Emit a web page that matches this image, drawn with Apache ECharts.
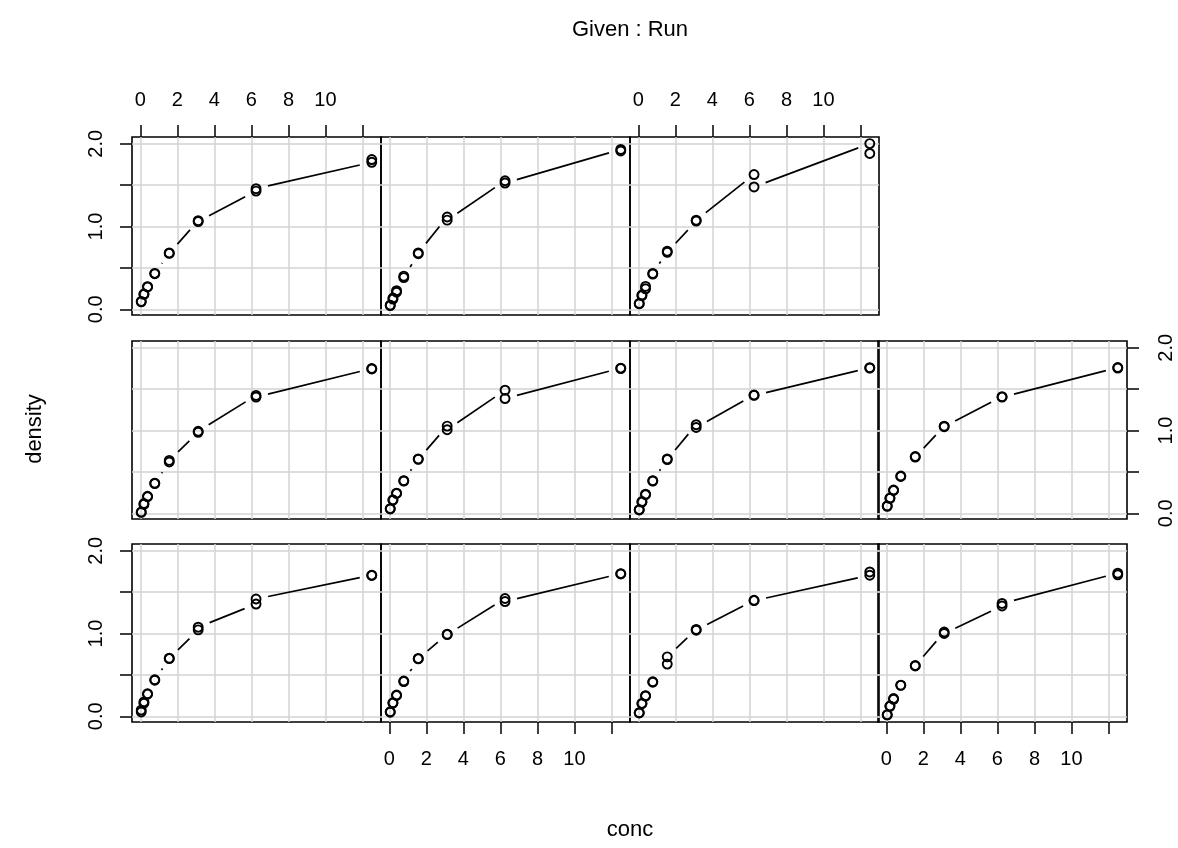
<!DOCTYPE html>
<html>
<head>
<meta charset="utf-8">
<title>DNase coplot</title>
<script src="https://cdn.jsdelivr.net/npm/echarts@6/dist/echarts.min.js"></script>
<style>
  html, body { margin: 0; padding: 0; background: #fff; }
  #chart { width: 1178px; height: 848px; }
</style>
</head>
<body>
<div id="chart"></div>
<script>
// DNase ELISA assay: optical density vs. DNase concentration, one panel per run
const CONC = [0.04882812, 0.1953125, 0.390625, 0.78125, 1.5625, 3.125, 6.25, 12.5];

// two replicates per concentration, in assay order
const RUN_1  = [0.017, 0.018, 0.121, 0.124, 0.206, 0.215, 0.377, 0.374, 0.614, 0.609, 1.019, 1.001, 1.334, 1.364, 1.730, 1.710];
const RUN_2  = [0.045, 0.050, 0.137, 0.123, 0.225, 0.207, 0.401, 0.383, 0.672, 0.681, 1.116, 1.078, 1.554, 1.526, 1.932, 1.914];
const RUN_3  = [0.070, 0.068, 0.173, 0.165, 0.277, 0.248, 0.434, 0.426, 0.703, 0.689, 1.067, 1.077, 1.629, 1.479, 2.003, 1.884];
const RUN_4  = [0.011, 0.016, 0.118, 0.108, 0.200, 0.206, 0.364, 0.360, 0.620, 0.640, 0.979, 0.992, 1.425, 1.405, 1.750, 1.745];
const RUN_5  = [0.041, 0.045, 0.142, 0.135, 0.232, 0.225, 0.394, 0.390, 0.657, 0.650, 1.071, 1.038, 1.430, 1.425, 1.760, 1.755];
const RUN_6  = [0.096, 0.090, 0.185, 0.180, 0.274, 0.270, 0.435, 0.430, 0.682, 0.676, 1.071, 1.061, 1.429, 1.458, 1.777, 1.810];
const RUN_7  = [0.090, 0.085, 0.184, 0.180, 0.281, 0.276, 0.451, 0.445, 0.686, 0.680, 1.053, 1.047, 1.410, 1.404, 1.762, 1.756];
const RUN_8  = [0.057, 0.052, 0.163, 0.158, 0.244, 0.240, 0.394, 0.390, 0.657, 0.652, 1.054, 1.010, 1.488, 1.387, 1.755, 1.750];
const RUN_9  = [0.044, 0.040, 0.157, 0.152, 0.249, 0.245, 0.418, 0.412, 0.631, 0.719, 1.050, 1.040, 1.403, 1.398, 1.705, 1.745];
const RUN_10 = [0.052, 0.075, 0.158, 0.175, 0.273, 0.268, 0.442, 0.436, 0.703, 0.697, 1.045, 1.077, 1.357, 1.418, 1.707, 1.702];
const RUN_11 = [0.055, 0.050, 0.164, 0.160, 0.257, 0.252, 0.426, 0.420, 0.700, 0.694, 0.993, 0.987, 1.424, 1.387, 1.725, 1.720];

// panels run bottom-left to top-right, ordered by the Run factor levels
const PANEL_RUNS = ['10', '11', '9', '1', '4', '8', '5', '7', '6', '2', '3'];

const X_TICKS = [0, 2, 4, 6, 8, 10, 12];
const X_LABELS = [0, 2, 4, 6, 8, 10];
const Y_TICKS = [0, 0.5, 1, 1.5, 2];
const Y_LABELS = [0, 1, 2];

const TITLE = 'Given : Run';
const X_NAME = 'conc';
const Y_NAME = 'density';

const RUNS = {
  '1': RUN_1, '2': RUN_2, '3': RUN_3, '4': RUN_4, '5': RUN_5, '6': RUN_6,
  '7': RUN_7, '8': RUN_8, '9': RUN_9, '10': RUN_10, '11': RUN_11
};

// shared limits, padded 4% like base graphics
function padded(vals) {
  const lo = Math.min(...vals), hi = Math.max(...vals);
  const pad = (hi - lo) * 0.04;
  return [lo - pad, hi + pad];
}
const allDensity = [].concat(...Object.values(RUNS));
const X_LIM = padded(CONC);
const Y_LIM = padded(allDensity);

// panel geometry
const COL_LEFT = [132, 381, 630, 878];
const ROW_TOP = [544, 341, 137];   // bottom, middle, top row
const PANEL_W = 249;
const PANEL_H = 178;

const FONT = '"Liberation Sans", Arial, Helvetica, sans-serif';
const GAP = 12.3;        // gap left around each point on the connecting line
const GRID_GRAY = '#d3d3d3';

// which outer axes carry ticks and labels
const X_TOP = [8, 10];
const X_BOTTOM = [1, 3];
const Y_LEFT = [0, 8];
const Y_RIGHT = [7];

const grids = [], xAxes = [], yAxes = [], series = [];

PANEL_RUNS.forEach((run, k) => {
  const row = Math.floor(k / 4), col = k % 4;
  grids.push({
    left: COL_LEFT[col], top: ROW_TOP[row], width: PANEL_W, height: PANEL_H,
    show: true, borderColor: '#000', borderWidth: 1.6, backgroundColor: 'transparent'
  });

  const xShown = X_TOP.includes(k) || X_BOTTOM.includes(k);
  xAxes.push({
    gridIndex: k, type: 'value', min: X_LIM[0], max: X_LIM[1],
    position: X_TOP.includes(k) ? 'top' : 'bottom',
    axisLine: { show: false, onZero: false },
    axisTick: { show: xShown, length: 12, customValues: X_TICKS, lineStyle: { color: '#000', width: 1.5 } },
    axisLabel: { show: xShown, customValues: X_LABELS, margin: 27, fontSize: 20, color: '#000', fontFamily: FONT },
    splitLine: { show: true, lineStyle: { color: GRID_GRAY, width: 1.5 } }
  });

  const yShown = Y_LEFT.includes(k) || Y_RIGHT.includes(k);
  const onRight = Y_RIGHT.includes(k);
  yAxes.push({
    gridIndex: k, type: 'value', min: Y_LIM[0], max: Y_LIM[1],
    position: onRight ? 'right' : 'left',
    axisLine: { show: false, onZero: false },
    axisTick: { show: yShown, length: 12, customValues: Y_TICKS, lineStyle: { color: '#000', width: 1.5 } },
    axisLabel: {
      show: yShown, customValues: Y_LABELS, rotate: 90, margin: onRight ? 29 : 26,
      fontSize: 20, color: '#000', fontFamily: FONT,
      formatter: v => Number(v).toFixed(1)
    },
    splitLine: { show: true, lineStyle: { color: GRID_GRAY, width: 1.5 } }
  });

  const dens = RUNS[run];
  const pts = dens.map((d, i) => [CONC[Math.floor(i / 2)], d]);
  const segs = [];
  for (let i = 0; i < pts.length - 1; i++) {
    segs.push([pts[i][0], pts[i][1], pts[i + 1][0], pts[i + 1][1]]);
  }

  // connecting line, broken around every point
  series.push({
    type: 'custom', xAxisIndex: k, yAxisIndex: k, z: 2, silent: true,
    encode: { x: [0, 2], y: [1, 3] },
    data: segs,
    renderItem: (params, api) => {
      const p1 = api.coord([api.value(0), api.value(1)]);
      const p2 = api.coord([api.value(2), api.value(3)]);
      const dx = p2[0] - p1[0], dy = p2[1] - p1[1];
      const d = Math.hypot(dx, dy);
      if (d <= 2 * GAP) return null;
      const ux = dx / d, uy = dy / d;
      return {
        type: 'line',
        shape: { x1: p1[0] + ux * GAP, y1: p1[1] + uy * GAP, x2: p2[0] - ux * GAP, y2: p2[1] - uy * GAP },
        style: { stroke: '#000', lineWidth: 1.7, fill: null }
      };
    }
  });

  // open circles
  series.push({
    type: 'scatter', xAxisIndex: k, yAxisIndex: k, z: 3, silent: true,
    symbol: 'circle', symbolSize: 9,
    itemStyle: { color: 'rgba(0,0,0,0)', borderColor: '#000', borderWidth: 1.9, opacity: 1 },
    data: pts
  });
});

const chart = echarts.init(document.getElementById('chart'), null, { renderer: 'canvas' });
chart.setOption({
  animation: false,
  backgroundColor: '#fff',
  grid: grids,
  xAxis: xAxes,
  yAxis: yAxes,
  series: series,
  graphic: [
    { type: 'text', x: 630, y: 30, style: { text: TITLE, font: '22px ' + FONT, fill: '#000', align: 'center', verticalAlign: 'middle' } },
    { type: 'text', x: 630, y: 830, style: { text: X_NAME, font: '22px ' + FONT, fill: '#000', align: 'center', verticalAlign: 'middle' } },
    { type: 'text', x: 35, y: 429, rotation: Math.PI / 2, style: { text: Y_NAME, font: '22px ' + FONT, fill: '#000', align: 'center', verticalAlign: 'middle' } }
  ]
});
</script>
</body>
</html>
